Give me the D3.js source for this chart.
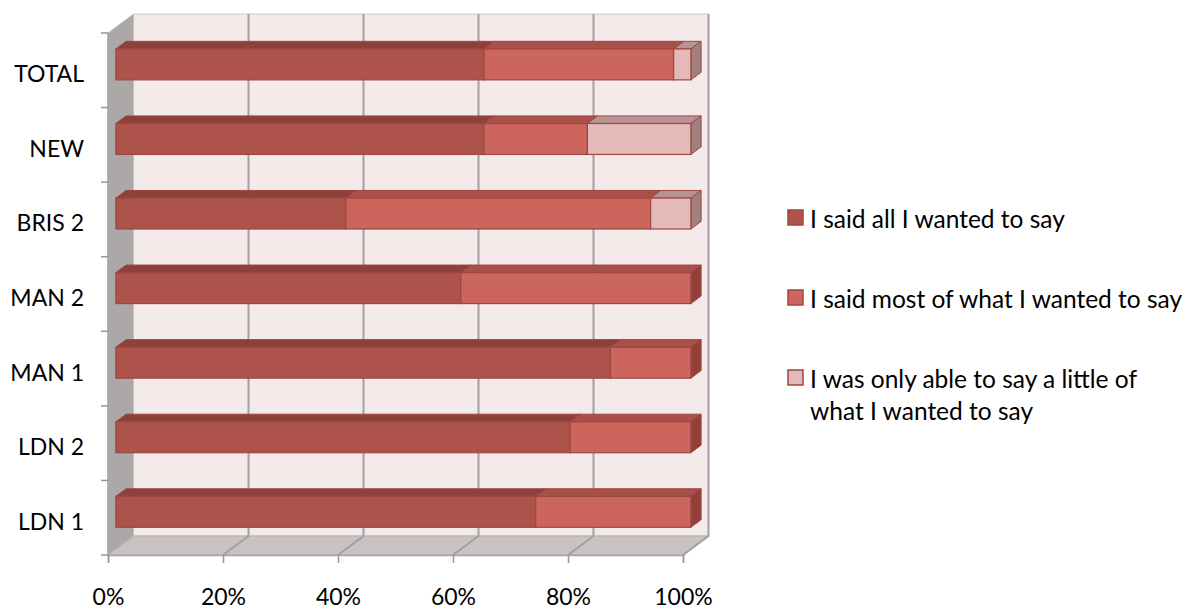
<!DOCTYPE html>
<html>
<head>
<meta charset="utf-8">
<script src="https://cdn.jsdelivr.net/npm/d3@7"></script>
<style>
  html, body { margin: 0; padding: 0; background: #fff; }
  svg { display: block; }
  text { font-family: Lato, "Open Sans", sans-serif; fill: #000; }
</style>
</head>
<body>
<svg id="chart" width="1187" height="610"></svg>
<script>
// ---- data ----
const categories = ["LDN 1", "LDN 2", "MAN 1", "MAN 2", "BRIS 2", "NEW", "TOTAL"];
const seriesNames = [
  "I said all I wanted to say",
  "I said most of what I wanted to say",
  "I was only able to say a little of what I wanted to say"
];
const saidAll    = [73, 79, 86, 60, 40, 64, 64];
const saidMost   = [27, 21, 14, 40, 53, 18, 33];
const saidLittle = [ 0,  0,  0,  0,  7, 18,  3];
const xTicks = [0, 20, 40, 60, 80, 100];

// ---- styles ----
const frontCol = ["#ad534b", "#cc655b", "#e3b9b9"];
const topCol   = ["#8e403a", "#a9504a", "#b99393"];
const sideCol  = ["#8a3c36", "#953f39", "#a08080"];
const edgeCol  = "#9e4740";

const svg = d3.select("#chart");
const DX = 25.5, DY = -19;           // full depth offset
const x = d3.scaleLinear().domain([0, 100]).range([108, 683]);
const y = d3.scaleBand().domain(categories.slice().reverse()).range([33, 555]);

const pt = (px, py, t) => [px + DX * t, py + DY * t];
const poly = pts => "M" + pts.map(p => p.join(",")).join("L") + "Z";

const yTop = y.range()[0], yBot = y.range()[1];
const x0 = x(0), x1 = x(100);

// walls
const g = svg.append("g");
g.append("path")
  .attr("d", poly([pt(x0, yTop, 1), pt(x1, yTop, 1), pt(x1, yBot, 1), pt(x0, yBot, 1)]))
  .attr("fill", "#f5eaea").attr("stroke", "#cfcaca").attr("stroke-width", 1);
g.append("path")
  .attr("d", poly([pt(x0, yTop, 0), pt(x0, yTop, 1), pt(x0, yBot, 1), pt(x0, yBot, 0)]))
  .attr("fill", "#aca8a8").attr("stroke", "#c4c0c0").attr("stroke-width", 1);
g.append("path")
  .attr("d", poly([pt(x0, yBot, 0), pt(x1, yBot, 0), pt(x1, yBot, 1), pt(x0, yBot, 1)]))
  .attr("fill", "#c9c2c2").attr("stroke", "#b5b0b0").attr("stroke-width", 1);

// gridlines (back wall + floor)
xTicks.filter(d => d > 0).forEach(d => {
  const xv = x(d);
  g.append("path")
    .attr("d", "M" + pt(xv, yTop, 1).join(",") + "L" + pt(xv, yBot, 1).join(",") + "L" + pt(xv, yBot, 0).join(","))
    .attr("fill", "none").attr("stroke", "#a2a0a0").attr("stroke-width", 2);
});

// left axis line and boundary ticks
g.append("line").attr("x1", x0).attr("x2", x0).attr("y1", yTop).attr("y2", yBot)
  .attr("stroke", "#a8a4a4").attr("stroke-width", 1.5);
const bounds = categories.map(c => y(c)).concat([yBot]);
g.selectAll(".ltick").data(bounds).join("line")
  .attr("x1", x0 - 7).attr("x2", x0).attr("y1", d => d).attr("y2", d => d)
  .attr("stroke", "#9a9696").attr("stroke-width", 1.5);

// category labels
g.selectAll(".clab").data(categories).join("text")
  .attr("x", 84).attr("y", c => y(c) + y.bandwidth() / 2 + 3)
  .attr("text-anchor", "end").attr("dominant-baseline", "central")
  .style("font-size", "23px").text(c => c);

// bottom axis
const xAxis = d3.axisBottom(x).tickValues(xTicks).tickFormat(d => d + "%")
  .tickSize(8).tickPadding(26);
const ax = svg.append("g").attr("transform", `translate(0,${yBot})`).call(xAxis);
ax.select(".domain").attr("stroke", "#a8a4a4").attr("stroke-width", 1.5);
ax.selectAll(".tick line").attr("stroke", "#9a9696").attr("stroke-width", 1.5);
ax.selectAll(".tick text").style("font-size", "23px").style("font-family", "Lato, sans-serif").attr("fill", "#000");

// bars
const tF = 0.31, tB = 0.71;
const barH = y.bandwidth() * 0.415;
const series = [saidAll, saidMost, saidLittle];
const bars = svg.append("g");
categories.forEach((c, i) => {
  const cy = y(c) + y.bandwidth() / 2;
  const by0 = cy - barH / 2, by1 = cy + barH / 2;
  let cum = 0;
  series.forEach((s, k) => {
    const v = s[i];
    if (v <= 0) return;
    const xa = x(cum), xb = x(cum + v);
    cum += v;
    const gg = bars.append("g");
    gg.append("path")
      .attr("d", poly([pt(xa, by0, tF), pt(xb, by0, tF), pt(xb, by0, tB), pt(xa, by0, tB)]))
      .attr("fill", topCol[k]).attr("stroke", edgeCol).attr("stroke-width", 1).attr("stroke-linejoin", "round");
    gg.append("path")
      .attr("d", poly([pt(xb, by0, tF), pt(xb, by0, tB), pt(xb, by1, tB), pt(xb, by1, tF)]))
      .attr("fill", sideCol[k]).attr("stroke", edgeCol).attr("stroke-width", 1).attr("stroke-linejoin", "round");
    const f0 = pt(xa, by0, tF);
    gg.append("rect")
      .attr("x", f0[0]).attr("y", f0[1]).attr("width", xb - xa).attr("height", by1 - by0)
      .attr("fill", frontCol[k]).attr("stroke", edgeCol).attr("stroke-width", 1.2);
  });
});

// legend
const legend = svg.append("g");
const legY = [218, 298, 378];
const legLines = [[seriesNames[0]], [seriesNames[1]], ["I was only able to say a little of", "what I wanted to say"]];
legLines.forEach((lines, k) => {
  legend.append("rect").attr("x", 788).attr("y", legY[k] - 8).attr("width", 15).attr("height", 15)
    .attr("fill", frontCol[k]).attr("stroke", edgeCol).attr("stroke-width", 1.5);
  const t = legend.append("text").attr("x", 810).attr("y", legY[k])
    .attr("dominant-baseline", "central").style("font-size", "24.5px");
  lines.forEach((ln, j) => {
    t.append("tspan").attr("x", 810).attr("dy", j === 0 ? 0 : 32).text(ln);
  });
});
</script>
</body>
</html>
